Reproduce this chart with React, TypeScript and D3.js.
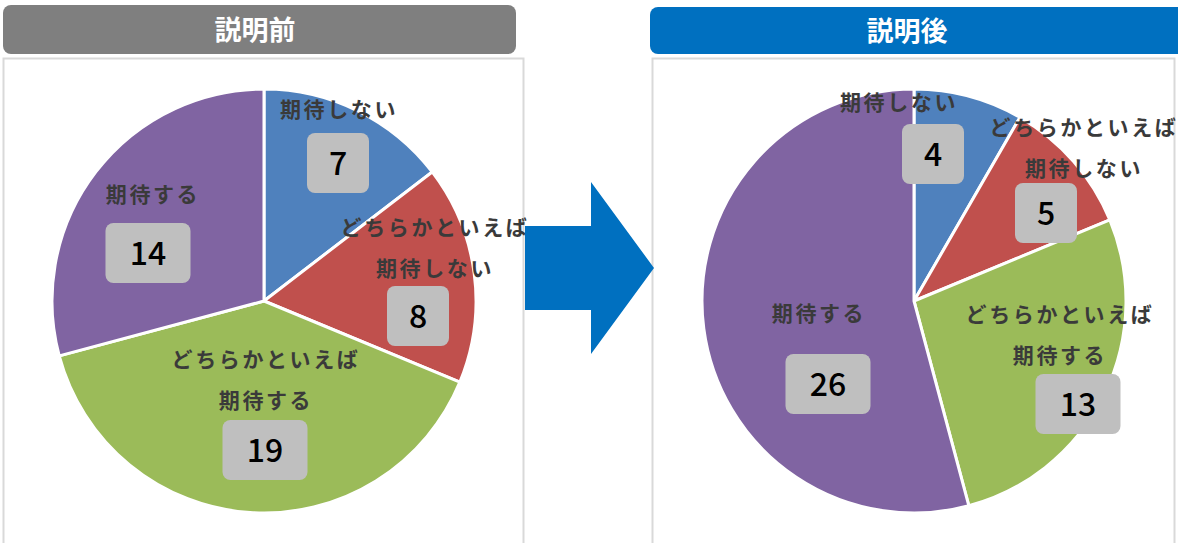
import React from 'react';
import * as d3 from 'd3';

// ---- data ----
const categories = ['期待しない', 'どちらかといえば期待しない', 'どちらかといえば期待する', '期待する'];
const categoryLines = [['期待しない'], ['どちらかといえば', '期待しない'], ['どちらかといえば', '期待する'], ['期待する']];
const beforeValues = [7, 8, 19, 14];
const afterValues = [4, 5, 13, 26];
const titles = ['説明前', '説明後'];

// ---- layout (not data) ----
const colors = ['#4f81bd', '#c0504d', '#9bbb59', '#8064a2'];
const W = 1178;
const H = 543;
const R = 212;
// label offsets relative to pie centre: [textX, textY, boxX, boxY]
const beforeLabelOffsets = [
  [75, -193, 74, -138],
  [171, -75, 154, 15],
  [2, 57, 1, 149],
  [-111, -108, -116, -48],
];
const afterLabelOffsets = [
  [-15, -200, 19, -147],
  [170, -175, 132, -88],
  [146, 12, 164, 103],
  [-95, 11, -86, 83],
];
const LINE_H = 41;
const FONT = '"Noto Sans CJK JP", "Noto Sans", sans-serif';

function Pie({ cx, cy, values, offsets }: { cx: number; cy: number; values: number[]; offsets: number[][] }) {
  const pie = d3.pie<number>().sort(null).value((d) => d);
  const arcs = pie(values);
  const arc = d3.arc<d3.PieArcDatum<number>>().innerRadius(0).outerRadius(R);
  return (
    <g transform={`translate(${cx},${cy})`}>
      {arcs.map((a, i) => (
        <path key={i} d={arc(a) || ''} fill={colors[i]} stroke="#ffffff" strokeWidth={3} strokeLinejoin="round" />
      ))}
      {arcs.map((a, i) => {
        const [tx, ty, bx, by] = offsets[i];
        const label = String(values[i]);
        const bw = label.length > 1 ? 85 : 62;
        const bh = 60;
        return (
          <g key={'l' + i}>
            {categoryLines[i].map((line, j) => (
              <text
                key={j}
                x={tx}
                y={ty + j * LINE_H}
                textAnchor="middle"
                dominantBaseline="central"
                fontFamily={FONT}
                fontWeight={700}
                fontSize={21}
                letterSpacing={2.6}
                fill="#3a3a3a"
              >
                {line}
              </text>
            ))}
            <rect x={bx - bw / 2} y={by - bh / 2} width={bw} height={bh} rx={8} ry={8} fill="#bfbfbf" />
            <text
              x={bx}
              y={by - 2}
              textAnchor="middle"
              dominantBaseline="central"
              fontFamily={FONT}
              fontWeight={500}
              fontSize={32}
              fill="#000000"
            >
              {label}
            </text>
          </g>
        );
      })}
    </g>
  );
}

export default function App() {
  return (
    <svg
      width={W}
      height={H}
      viewBox={`0 0 ${W} ${H}`}
      style={{ position: 'absolute', left: 0, top: 0, background: '#ffffff' }}
    >
      <rect x={0} y={0} width={W} height={H} fill="#ffffff" />
      {/* panels */}
      <rect x={3.5} y={58.5} width={520} height={500} fill="#ffffff" stroke="#d9d9d9" strokeWidth={2} />
      <rect x={652.5} y={58.5} width={522} height={500} fill="#ffffff" stroke="#d9d9d9" strokeWidth={2} />
      {/* headers */}
      <rect x={3} y={5} width={513} height={49} rx={8} ry={8} fill="#7f7f7f" />
      <text x={255} y={28} textAnchor="middle" dominantBaseline="central" fontFamily={FONT} fontWeight={700} fontSize={27} fill="#ffffff">
        {titles[0]}
      </text>
      <rect x={650} y={7} width={540} height={47} rx={8} ry={8} fill="#0070c0" />
      <text x={907} y={29} textAnchor="middle" dominantBaseline="central" fontFamily={FONT} fontWeight={700} fontSize={27} fill="#ffffff">
        {titles[1]}
      </text>
      <Pie cx={264} cy={301} values={beforeValues} offsets={beforeLabelOffsets} />
      <Pie cx={914} cy={301} values={afterValues} offsets={afterLabelOffsets} />
      {/* arrow */}
      <path d="M525,226 L591,226 L591,182 L654,268 L591,354 L591,310 L525,310 Z" fill="#0070c0" />
      <title>{categories.join(' / ')}</title>
    </svg>
  );
}
